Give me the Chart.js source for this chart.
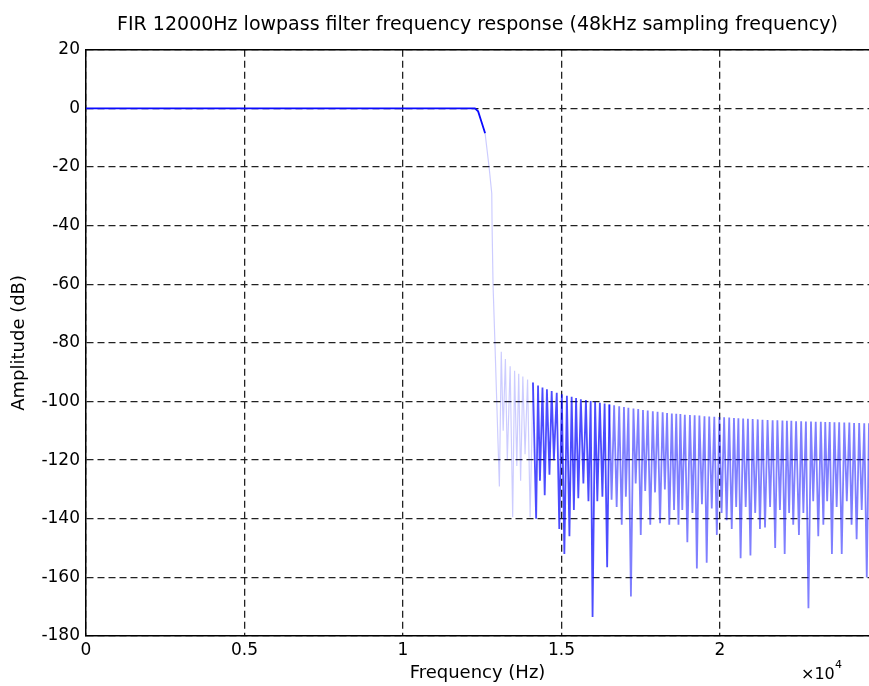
<!DOCTYPE html>
<html>
<head>
<meta charset="utf-8">
<title>FIR lowpass response</title>
<script src="https://cdn.jsdelivr.net/npm/chart.js@4.4.1/dist/chart.umd.min.js"></script>
<style>
  body { margin: 0; background: #fff; }
</style>
</head>
<body>
<canvas id="firChart" width="869" height="686"></canvas>
<script>
// passband + transition band
var passHz = [0, 6000, 12000, 12270, 12370, 12480, 12590, 12650, 12720, 12800, 12810, 12840, 12900];
var passDb = [0, 0, 0, 0, -1, -4.7, -8.5, -14, -20.5, -29, -40, -60, -80];

// stopband nulls (Hz, dB)
var nullHz = [13040, 13160, 13290, 13460, 13590, 13710, 13850, 14010, 14200, 14320,
              14470, 14620, 14760, 14930, 15090, 15250, 15390, 15530, 15690, 15850,
              15980, 16130, 16290, 16440, 16580, 16740, 16900, 17030, 17190, 17340,
              17500, 17640, 17800, 17950, 18110, 18260, 18400, 18550, 18690, 18810,
              18970, 19130, 19270, 19430, 19580, 19740, 19900, 20050, 20210, 20370,
              20510, 20650, 20810, 20960, 21110, 21260, 21420, 21580, 21740, 21890,
              22040, 22180, 22310, 22490, 22630, 22790, 22940, 23100, 23260, 23380,
              23530, 23680, 23840, 24000, 24150, 24310, 24470, 24630];
var nullDb = [-129, -110, -120, -139.5, -122, -127, -118, -139.5, -140, -127,
              -132, -125, -120, -143.5, -152, -146, -137, -133, -128, -134,
              -173.5, -134, -132.5, -156.5, -133.5, -136, -142, -132.5, -166.5, -128,
              -145.5, -130.5, -142, -131, -141.5, -130, -142, -137, -142, -137,
              -148, -138, -157, -135, -155, -136.5, -145.5, -138, -140.5, -143.5,
              -136, -153.5, -136, -152.5, -138, -143.5, -143, -136, -150, -137,
              -152, -138, -142, -145.5, -138, -170.5, -134, -146, -142, -134,
              -152, -136, -152, -134, -142, -147, -137, -160];

// sidelobe crests after each null
var crestHz = [13100, 13230, 13380, 13520, 13650, 13780, 13930, 14100, 14260, 14400,
               14540, 14690, 14850, 15010, 15170, 15320, 15460, 15610, 15770, 15920,
               16060, 16210, 16360, 16510, 16660, 16820, 16970, 17110, 17270, 17420,
               17570, 17720, 17880, 18030, 18190, 18330, 18480, 18620, 18750, 18890,
               19050, 19200, 19350, 19510, 19660, 19820, 19980, 20130, 20290, 20440,
               20580, 20730, 20880, 21030, 21190, 21340, 21500, 21660, 21810, 21970,
               22110, 22250, 22400, 22560, 22710, 22870, 23020, 23180, 23320, 23460,
               23610, 23760, 23920, 24080, 24230, 24390, 24550, 24700];
var crestDb = [-83, -85.5, -88, -89.5, -90.5, -91.5, -92.5, -93.5, -94.5, -95.2,
               -95.8, -96.4, -97, -97.5, -98, -98.4, -98.8, -99.2, -99.5, -99.8,
               -100.1, -100.4, -100.7, -101, -101.3, -101.6, -101.9, -102.1, -102.4, -102.6,
               -102.9, -103.1, -103.3, -103.5, -103.7, -103.9, -104.1, -104.2, -104.3, -104.5,
               -104.6, -104.7, -104.8, -105, -105.1, -105.2, -105.3, -105.4, -105.5, -105.6,
               -105.7, -105.8, -105.9, -106, -106.1, -106.2, -106.3, -106.4, -106.4, -106.5,
               -106.6, -106.6, -106.7, -106.7, -106.8, -106.8, -106.9, -106.9, -107, -107,
               -107.1, -107.1, -107.2, -107.2, -107.3, -107.3, -107.4, -107.4];

var xTicks = [0, 5000, 10000, 15000, 20000];
var xTickLabels = ['0', '0.5', '1', '1.5', '2'];

var FONT = '"DejaVu Sans", "Liberation Sans", Arial, sans-serif';
Chart.defaults.color = '#000';
Chart.defaults.font.family = FONT;

var points = [];
for (var i = 0; i < passHz.length; i++) {
  points.push({x: passHz[i], y: passDb[i]});
}
for (var j = 0; j < nullHz.length; j++) {
  points.push({x: nullHz[j], y: nullDb[j]});
  points.push({x: crestHz[j], y: crestDb[j]});
}

// solid top frame line + the x10^4 multiplier
var extras = {
  id: 'extras',
  afterDraw: function(chart) {
    var ctx = chart.ctx, a = chart.chartArea;
    ctx.save();
    ctx.strokeStyle = '#000';
    ctx.lineWidth = 1.5;
    ctx.beginPath();
    ctx.moveTo(a.left, a.top);
    ctx.lineTo(a.right, a.top);
    ctx.stroke();
    ctx.fillStyle = '#000';
    ctx.textBaseline = 'alphabetic';
    ctx.font = '16px ' + FONT;
    ctx.fillText('\u00d710', 801, 679);
    ctx.font = '11px ' + FONT;
    ctx.fillText('4', 835, 668);
    ctx.restore();
  }
};

var config = {
  type: 'line',
  data: {
    datasets: [{
      data: points,
      borderColor: 'rgb(0,0,255)',
      borderWidth: 1.2,
      pointRadius: 0,
      tension: 0,
      segment: {
        borderColor: function(ctx) {
          var x = ctx.p0.parsed.x;
          if (x < 12590) return 'rgb(10,10,255)';
          if (x < 14050) return 'rgba(0,0,255,0.2)';
          if (x < 16500) return 'rgba(0,0,255,0.7)';
          return 'rgba(0,0,255,0.5)';
        },
        borderWidth: function(ctx) {
          var x = ctx.p0.parsed.x;
          if (x < 12590) return 1.8;
          if (x < 14050) return 1.2;
          return 1.8;
        }
      }
    }]
  },
  options: {
    responsive: false,
    animation: false,
    layout: { padding: 0 },
    plugins: {
      legend: { display: false },
      tooltip: { enabled: false },
      title: {
        display: true,
        fullSize: false,
        text: 'FIR 12000Hz lowpass filter frequency response (48kHz sampling frequency)',
        font: { size: 19, weight: 'normal' },
        color: '#000',
        padding: { top: 14, bottom: 13 }
      }
    },
    scales: {
      x: {
        type: 'linear',
        min: 0,
        max: 24700,
        z: 1,
        afterFit: function(scale) { scale.height = 50; },
        afterBuildTicks: function(scale) {
          scale.ticks = xTicks.map(function(v) { return {value: v}; });
        },
        ticks: {
          autoSkip: false,
          maxRotation: 0,
          padding: 4,
          font: { size: 17 },
          callback: function(v) { return xTickLabels[xTicks.indexOf(v)]; }
        },
        grid: { color: '#222', lineWidth: 1.3, drawTicks: false },
        border: { display: true, color: '#000', width: 1.5, dash: [7, 4] },
        title: {
          display: true,
          text: 'Frequency (Hz)',
          font: { size: 18 },
          padding: { top: 0, bottom: 2 }
        }
      },
      y: {
        min: -180,
        max: 20,
        z: 1,
        afterFit: function(scale) { scale.width = 86; },
        ticks: { stepSize: 20, padding: 6, font: { size: 17 } },
        grid: { color: '#222', lineWidth: 1.3, drawTicks: false },
        border: { display: true, color: '#000', width: 1.5, dash: [7, 4] },
        title: {
          display: true,
          text: 'Amplitude (dB)',
          font: { size: 18 },
          padding: { top: 9, bottom: 0 }
        }
      }
    }
  },
  plugins: [extras]
};

var firChart = new Chart(document.getElementById('firChart'), config);
</script>
</body>
</html>
